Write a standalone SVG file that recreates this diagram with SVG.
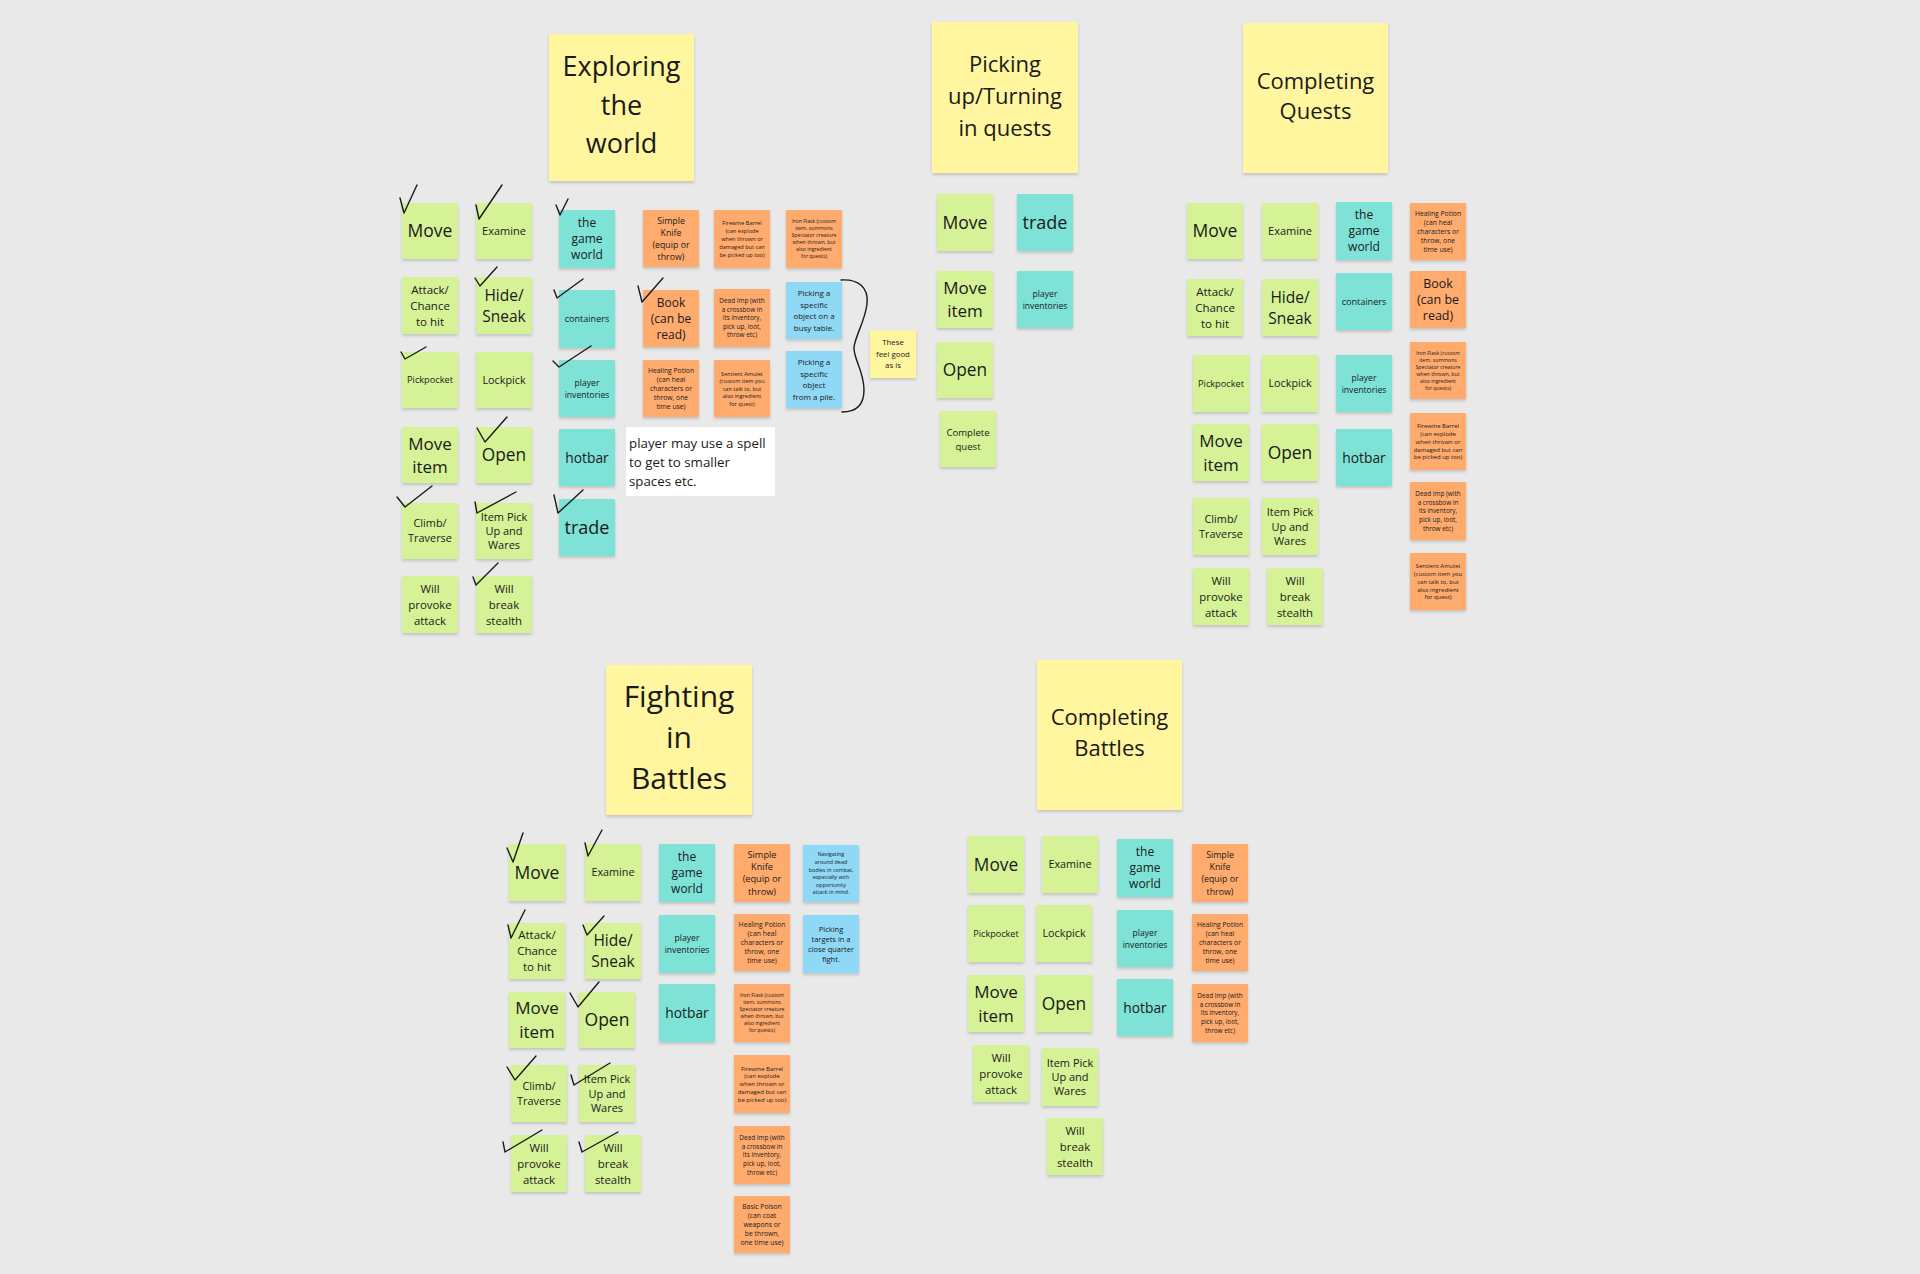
<svg xmlns="http://www.w3.org/2000/svg" width="1920" height="1274" viewBox="0 0 1920 1274">
<defs>
<filter id="sh" x="-10%" y="-10%" width="120%" height="130%"><feDropShadow dx="0" dy="2" stdDeviation="1.5" flood-color="#000" flood-opacity="0.16"/></filter>
<style>
.n{filter:url(#sh)}
.g{fill:#d5f296}.c{fill:#7ee2d7}.o{fill:#ffab6e}.y{fill:#fff69f}.b{fill:#8fd8f6}.w{fill:#ffffff}
text{font-family:"Open Sans","Liberation Sans",sans-serif;fill:#1a1a1a;text-anchor:middle}
.l{text-anchor:start}
.ck{fill:none;stroke:#1a1a1a;stroke-width:1.4;stroke-linecap:round;stroke-linejoin:round}
</style>
</defs>
<rect x="0" y="0" width="1920" height="1274" fill="#e9e9e9"/>

<!-- EXPLORING THE WORLD -->
<g id="ex-header"><rect class="n y" x="549" y="34" width="145" height="147"/><text font-size="27"><tspan x="621.5" y="76.2">Exploring</tspan><tspan x="621.5" y="114.7">the</tspan><tspan x="621.5" y="153.2">world</tspan></text></g>
<g id="ex-move"><rect class="n g" x="402" y="203" width="56" height="56"/><text font-size="17.5" x="430" y="237.3">Move</text></g>
<g id="ex-examine"><rect class="n g" x="476" y="203" width="56" height="56"/><text font-size="11" x="504" y="235">Examine</text></g>
<g id="ex-world"><rect class="n c" x="559" y="210" width="56" height="58"/><text font-size="12"><tspan x="587" y="227.3">the</tspan><tspan x="587" y="243.3">game</tspan><tspan x="587" y="259.3">world</tspan></text></g>
<g id="ex-knife"><rect class="n o" x="643" y="210" width="56" height="57"/><text font-size="8.8"><tspan x="671" y="223.7">Simple</tspan><tspan x="671" y="235.7">Knife</tspan><tspan x="671" y="247.7">(equip or</tspan><tspan x="671" y="259.7">throw)</tspan></text></g>
<g id="ex-barrel"><rect class="n o" x="714" y="210" width="56" height="58"/><text font-size="5.6"><tspan x="742" y="225">Firewine Barrel</tspan><tspan x="742" y="233">(can explode</tspan><tspan x="742" y="241">when thrown or</tspan><tspan x="742" y="249">damaged but can</tspan><tspan x="742" y="257">be picked up too)</tspan></text></g>
<g id="ex-flask"><rect class="n o" x="786" y="210" width="56" height="58"/><text font-size="5.2"><tspan x="814" y="223.4">Iron Flask (custom</tspan><tspan x="814" y="230.4">item, summons</tspan><tspan x="814" y="237.4">Spectator creature</tspan><tspan x="814" y="244.4">when thrown, but</tspan><tspan x="814" y="251.4">also ingredient</tspan><tspan x="814" y="258.4">for quests)</tspan></text></g>
<g id="ex-attack"><rect class="n g" x="402" y="277" width="56" height="57"/><text font-size="11.5"><tspan x="430" y="293.6">Attack/</tspan><tspan x="430" y="309.6">Chance</tspan><tspan x="430" y="325.6">to hit</tspan></text></g>
<g id="ex-hide"><rect class="n g" x="476" y="277" width="56" height="57"/><text font-size="15.5"><tspan x="504" y="300.6">Hide/</tspan><tspan x="504" y="321.6">Sneak</tspan></text></g>
<g id="ex-containers"><rect class="n c" x="559" y="290" width="56" height="58"/><text font-size="9.1" x="587" y="322.3">containers</text></g>
<g id="ex-book"><rect class="n o" x="643" y="290" width="56" height="57"/><text font-size="12"><tspan x="671" y="306.8">Book</tspan><tspan x="671" y="322.8">(can be</tspan><tspan x="671" y="338.8">read)</tspan></text></g>
<g id="ex-imp"><rect class="n o" x="714" y="289" width="56" height="58"/><text font-size="6.4"><tspan x="742" y="303.3">Dead Imp (with</tspan><tspan x="742" y="311.8">a crossbow in</tspan><tspan x="742" y="320.3">its inventory,</tspan><tspan x="742" y="328.8">pick up, loot,</tspan><tspan x="742" y="337.3">throw etc)</tspan></text></g>
<g id="ex-busy"><rect class="n b" x="786" y="282" width="56" height="57"/><text font-size="8"><tspan x="814" y="296.2">Picking a</tspan><tspan x="814" y="307.7">specific</tspan><tspan x="814" y="319.2">object on a</tspan><tspan x="814" y="330.7">busy table.</tspan></text></g>
<g id="ex-pickpocket"><rect class="n g" x="402" y="352" width="56" height="56"/><text font-size="9.2" x="430" y="383.3">Pickpocket</text></g>
<g id="ex-lockpick"><rect class="n g" x="476" y="352" width="56" height="56"/><text font-size="10.8" x="504" y="383.9">Lockpick</text></g>
<g id="ex-inv"><rect class="n c" x="559" y="360" width="56" height="57"/><text font-size="8.6"><tspan x="587" y="385.6">player</tspan><tspan x="587" y="397.6">inventories</tspan></text></g>
<g id="ex-potion"><rect class="n o" x="643" y="360" width="56" height="57"/><text font-size="6.8"><tspan x="671" y="372.9">Healing Potion</tspan><tspan x="671" y="381.9">(can heal</tspan><tspan x="671" y="390.9">characters or</tspan><tspan x="671" y="399.9">throw, one</tspan><tspan x="671" y="408.9">time use)</tspan></text></g>
<g id="ex-amulet"><rect class="n o" x="714" y="360" width="56" height="57"/><text font-size="5.6"><tspan x="742" y="375.5">Sentient Amulet</tspan><tspan x="742" y="383">(custom item you</tspan><tspan x="742" y="390.5">can talk to, but</tspan><tspan x="742" y="398">also ingredient</tspan><tspan x="742" y="405.5">for quest)</tspan></text></g>
<g id="ex-pile"><rect class="n b" x="786" y="351" width="56" height="57"/><text font-size="8"><tspan x="814" y="365.2">Picking a</tspan><tspan x="814" y="376.7">specific</tspan><tspan x="814" y="388.2">object</tspan><tspan x="814" y="399.7">from a pile.</tspan></text></g>
<g id="ex-good"><rect class="n y" x="870" y="330" width="46" height="48"/><text font-size="7.8"><tspan x="893" y="345.3">These</tspan><tspan x="893" y="356.8">feel good</tspan><tspan x="893" y="368.3">as is</tspan></text></g>
<g id="ex-moveitem"><rect class="n g" x="402" y="427" width="56" height="56"/><text font-size="17"><tspan x="430" y="449.6">Move</tspan><tspan x="430" y="472.6">item</tspan></text></g>
<g id="ex-open"><rect class="n g" x="476" y="427" width="56" height="56"/><text font-size="17.3" x="504" y="461.2">Open</text></g>
<g id="ex-hotbar"><rect class="n c" x="559" y="429" width="56" height="57"/><text font-size="13.8" x="587" y="462.5">hotbar</text></g>
<g id="ex-spell"><rect class="w" x="626" y="427" width="149" height="69"/><text class="l" font-size="13.3"><tspan x="629" y="447.8">player may use a spell</tspan><tspan x="629" y="466.8">to get to smaller</tspan><tspan x="629" y="485.8">spaces etc.</tspan></text></g>
<g id="ex-climb"><rect class="n g" x="402" y="503" width="56" height="56"/><text font-size="10.9"><tspan x="430" y="527.4">Climb/</tspan><tspan x="430" y="542.4">Traverse</tspan></text></g>
<g id="ex-pickup"><rect class="n g" x="476" y="503" width="56" height="56"/><text font-size="11"><tspan x="504" y="520.7">Item Pick</tspan><tspan x="504" y="535">Up and</tspan><tspan x="504" y="549.3">Wares</tspan></text></g>
<g id="ex-trade"><rect class="n c" x="559" y="499" width="56" height="57"/><text font-size="18" x="587" y="534">trade</text></g>
<g id="ex-provoke"><rect class="n g" x="402" y="576" width="56" height="57"/><text font-size="11.4"><tspan x="430" y="592.6">Will</tspan><tspan x="430" y="608.6">provoke</tspan><tspan x="430" y="624.6">attack</tspan></text></g>
<g id="ex-stealth"><rect class="n g" x="476" y="576" width="56" height="57"/><text font-size="11.4"><tspan x="504" y="592.6">Will</tspan><tspan x="504" y="608.6">break</tspan><tspan x="504" y="624.6">stealth</tspan></text></g>

<!-- PICKING UP / TURNING IN QUESTS -->
<g id="pu-header"><rect class="n y" x="932" y="22" width="146" height="151"/><text font-size="22"><tspan x="1005" y="72.4">Picking</tspan><tspan x="1005" y="104.4">up/Turning</tspan><tspan x="1005" y="136.4">in quests</tspan></text></g>
<g id="pu-move"><rect class="n g" x="937" y="194" width="56" height="57"/><text font-size="17.5" x="965" y="228.8">Move</text></g>
<g id="pu-trade"><rect class="n c" x="1017" y="194" width="56" height="57"/><text font-size="18" x="1045" y="229">trade</text></g>
<g id="pu-moveitem"><rect class="n g" x="937" y="271" width="56" height="57"/><text font-size="17"><tspan x="965" y="294.1">Move</tspan><tspan x="965" y="317.1">item</tspan></text></g>
<g id="pu-inv"><rect class="n c" x="1017" y="271" width="56" height="57"/><text font-size="8.6"><tspan x="1045" y="296.6">player</tspan><tspan x="1045" y="308.6">inventories</tspan></text></g>
<g id="pu-open"><rect class="n g" x="937" y="342" width="56" height="56"/><text font-size="17.3" x="965" y="376.2">Open</text></g>
<g id="pu-complete"><rect class="n g" x="940" y="411" width="56" height="56"/><text font-size="9.6"><tspan x="968" y="435.5">Complete</tspan><tspan x="968" y="449.5">quest</tspan></text></g>

<!-- COMPLETING QUESTS -->
<g id="cq-header"><rect class="n y" x="1243" y="23" width="145" height="150"/><text font-size="22"><tspan x="1315.5" y="88.9">Completing</tspan><tspan x="1315.5" y="119.4">Quests</tspan></text></g>
<g id="cq-move"><rect class="n g" x="1187" y="203" width="56" height="56"/><text font-size="17.5" x="1215" y="237.3">Move</text></g>
<g id="cq-examine"><rect class="n g" x="1262" y="203" width="56" height="56"/><text font-size="11" x="1290" y="235">Examine</text></g>
<g id="cq-world"><rect class="n c" x="1336" y="202" width="56" height="58"/><text font-size="12"><tspan x="1364" y="219.3">the</tspan><tspan x="1364" y="235.3">game</tspan><tspan x="1364" y="251.3">world</tspan></text></g>
<g id="cq-potion"><rect class="n o" x="1410" y="203" width="56" height="57"/><text font-size="6.8"><tspan x="1438" y="215.9">Healing Potion</tspan><tspan x="1438" y="224.9">(can heal</tspan><tspan x="1438" y="233.9">characters or</tspan><tspan x="1438" y="242.9">throw, one</tspan><tspan x="1438" y="251.9">time use)</tspan></text></g>
<g id="cq-attack"><rect class="n g" x="1187" y="279" width="56" height="57"/><text font-size="11.5"><tspan x="1215" y="295.6">Attack/</tspan><tspan x="1215" y="311.6">Chance</tspan><tspan x="1215" y="327.6">to hit</tspan></text></g>
<g id="cq-hide"><rect class="n g" x="1262" y="279" width="56" height="57"/><text font-size="15.5"><tspan x="1290" y="302.6">Hide/</tspan><tspan x="1290" y="323.6">Sneak</tspan></text></g>
<g id="cq-containers"><rect class="n c" x="1336" y="273" width="56" height="57"/><text font-size="9.1" x="1364" y="304.8">containers</text></g>
<g id="cq-book"><rect class="n o" x="1410" y="271" width="56" height="57"/><text font-size="12.5"><tspan x="1438" y="288">Book</tspan><tspan x="1438" y="304">(can be</tspan><tspan x="1438" y="320">read)</tspan></text></g>
<g id="cq-pickpocket"><rect class="n g" x="1193" y="355" width="56" height="57"/><text font-size="9.2" x="1221" y="386.8">Pickpocket</text></g>
<g id="cq-lockpick"><rect class="n g" x="1262" y="355" width="56" height="57"/><text font-size="10.8" x="1290" y="387.4">Lockpick</text></g>
<g id="cq-inv"><rect class="n c" x="1336" y="355" width="56" height="57"/><text font-size="8.6"><tspan x="1364" y="380.6">player</tspan><tspan x="1364" y="392.6">inventories</tspan></text></g>
<g id="cq-flask"><rect class="n o" x="1410" y="342" width="56" height="57"/><text font-size="5.2"><tspan x="1438" y="354.9">Iron Flask (custom</tspan><tspan x="1438" y="361.9">item, summons</tspan><tspan x="1438" y="368.9">Spectator creature</tspan><tspan x="1438" y="375.9">when thrown, but</tspan><tspan x="1438" y="382.9">also ingredient</tspan><tspan x="1438" y="389.9">for quests)</tspan></text></g>
<g id="cq-moveitem"><rect class="n g" x="1193" y="424" width="56" height="57"/><text font-size="17"><tspan x="1221" y="446.6">Move</tspan><tspan x="1221" y="470.6">item</tspan></text></g>
<g id="cq-open"><rect class="n g" x="1262" y="424" width="56" height="57"/><text font-size="17.4" x="1290" y="458.8">Open</text></g>
<g id="cq-hotbar"><rect class="n c" x="1336" y="429" width="56" height="57"/><text font-size="13.8" x="1364" y="462.5">hotbar</text></g>
<g id="cq-barrel"><rect class="n o" x="1410" y="413" width="56" height="57"/><text font-size="6"><tspan x="1438" y="428.1">Firewine Barrel</tspan><tspan x="1438" y="435.9">(can explode</tspan><tspan x="1438" y="443.7">when thrown or</tspan><tspan x="1438" y="451.5">damaged but can</tspan><tspan x="1438" y="459.3">be picked up too)</tspan></text></g>
<g id="cq-climb"><rect class="n g" x="1193" y="498" width="56" height="57"/><text font-size="10.9"><tspan x="1221" y="522.9">Climb/</tspan><tspan x="1221" y="537.9">Traverse</tspan></text></g>
<g id="cq-pickup"><rect class="n g" x="1262" y="498" width="56" height="57"/><text font-size="11"><tspan x="1290" y="516.2">Item Pick</tspan><tspan x="1290" y="530.5">Up and</tspan><tspan x="1290" y="544.8">Wares</tspan></text></g>
<g id="cq-imp"><rect class="n o" x="1410" y="482" width="56" height="58"/><text font-size="6.4"><tspan x="1438" y="496.1">Dead Imp (with</tspan><tspan x="1438" y="504.7">a crossbow in</tspan><tspan x="1438" y="513.3">its inventory,</tspan><tspan x="1438" y="521.9">pick up, loot,</tspan><tspan x="1438" y="530.5">throw etc)</tspan></text></g>
<g id="cq-provoke"><rect class="n g" x="1193" y="568" width="56" height="57"/><text font-size="11.4"><tspan x="1221" y="584.6">Will</tspan><tspan x="1221" y="600.6">provoke</tspan><tspan x="1221" y="616.6">attack</tspan></text></g>
<g id="cq-stealth"><rect class="n g" x="1267" y="568" width="56" height="57"/><text font-size="11.4"><tspan x="1295" y="584.6">Will</tspan><tspan x="1295" y="600.6">break</tspan><tspan x="1295" y="616.6">stealth</tspan></text></g>
<g id="cq-amulet"><rect class="n o" x="1410" y="553" width="56" height="57"/><text font-size="6"><tspan x="1438" y="568.1">Sentient Amulet</tspan><tspan x="1438" y="575.9">(custom item you</tspan><tspan x="1438" y="583.7">can talk to, but</tspan><tspan x="1438" y="591.5">also ingredient</tspan><tspan x="1438" y="599.3">for quest)</tspan></text></g>

<!-- FIGHTING IN BATTLES -->
<g id="fb-header"><rect class="n y" x="606" y="665" width="146" height="150"/><text font-size="30"><tspan x="679" y="706.8">Fighting</tspan><tspan x="679" y="747.8">in</tspan><tspan x="679" y="788.8">Battles</tspan></text></g>
<g id="fb-move"><rect class="n g" x="509" y="844" width="56" height="57"/><text font-size="17.5" x="537" y="878.8">Move</text></g>
<g id="fb-examine"><rect class="n g" x="585" y="844" width="56" height="57"/><text font-size="10.8" x="613" y="876.4">Examine</text></g>
<g id="fb-world"><rect class="n c" x="659" y="844" width="56" height="58"/><text font-size="12"><tspan x="687" y="861.3">the</tspan><tspan x="687" y="877.3">game</tspan><tspan x="687" y="893.3">world</tspan></text></g>
<g id="fb-knife"><rect class="n o" x="734" y="844" width="56" height="58"/><text font-size="9.2"><tspan x="762" y="858">Simple</tspan><tspan x="762" y="870.2">Knife</tspan><tspan x="762" y="882.4">(equip or</tspan><tspan x="762" y="894.6">throw)</tspan></text></g>
<g id="fb-nav"><rect class="n b" x="803" y="845" width="56" height="57"/><text font-size="5.4"><tspan x="831" y="856.4">Navigating</tspan><tspan x="831" y="864">around dead</tspan><tspan x="831" y="871.6">bodies in combat,</tspan><tspan x="831" y="879.2">especially with</tspan><tspan x="831" y="886.8">opportunity</tspan><tspan x="831" y="894.4">attack in mind.</tspan></text></g>
<g id="fb-attack"><rect class="n g" x="509" y="923" width="56" height="56"/><text font-size="11.5"><tspan x="537" y="939.1">Attack/</tspan><tspan x="537" y="955.1">Chance</tspan><tspan x="537" y="971.1">to hit</tspan></text></g>
<g id="fb-hide"><rect class="n g" x="585" y="923" width="56" height="56"/><text font-size="15.5"><tspan x="613" y="946.1">Hide/</tspan><tspan x="613" y="967.1">Sneak</tspan></text></g>
<g id="fb-inv"><rect class="n c" x="659" y="915" width="56" height="58"/><text font-size="8.6"><tspan x="687" y="941.1">player</tspan><tspan x="687" y="953.1">inventories</tspan></text></g>
<g id="fb-potion"><rect class="n o" x="734" y="914" width="56" height="57"/><text font-size="6.9"><tspan x="762" y="926.8">Healing Potion</tspan><tspan x="762" y="935.9">(can heal</tspan><tspan x="762" y="945">characters or</tspan><tspan x="762" y="954.1">throw, one</tspan><tspan x="762" y="963.2">time use)</tspan></text></g>
<g id="fb-targets"><rect class="n b" x="803" y="915" width="56" height="58"/><text font-size="7.5"><tspan x="831" y="931.7">Picking</tspan><tspan x="831" y="941.7">targets in a</tspan><tspan x="831" y="951.7">close quarter</tspan><tspan x="831" y="961.7">fight.</tspan></text></g>
<g id="fb-moveitem"><rect class="n g" x="509" y="992" width="56" height="56"/><text font-size="17"><tspan x="537" y="1014.1">Move</tspan><tspan x="537" y="1038.1">item</tspan></text></g>
<g id="fb-open"><rect class="n g" x="579" y="992" width="56" height="56"/><text font-size="17.5" x="607" y="1026.3">Open</text></g>
<g id="fb-hotbar"><rect class="n c" x="659" y="984" width="56" height="58"/><text font-size="13.8" x="687" y="1018">hotbar</text></g>
<g id="fb-flask"><rect class="n o" x="734" y="984" width="56" height="58"/><text font-size="5.2"><tspan x="762" y="997.4">Iron Flask (custom</tspan><tspan x="762" y="1004.4">item, summons</tspan><tspan x="762" y="1011.4">Spectator creature</tspan><tspan x="762" y="1018.4">when thrown, but</tspan><tspan x="762" y="1025.4">also ingredient</tspan><tspan x="762" y="1032.4">for quests)</tspan></text></g>
<g id="fb-climb"><rect class="n g" x="511" y="1065" width="56" height="57"/><text font-size="10.9"><tspan x="539" y="1089.9">Climb/</tspan><tspan x="539" y="1104.9">Traverse</tspan></text></g>
<g id="fb-pickup"><rect class="n g" x="579" y="1065" width="56" height="57"/><text font-size="11"><tspan x="607" y="1083.2">Item Pick</tspan><tspan x="607" y="1097.5">Up and</tspan><tspan x="607" y="1111.8">Wares</tspan></text></g>
<g id="fb-barrel"><rect class="n o" x="734" y="1055" width="56" height="58"/><text font-size="6"><tspan x="762" y="1070.6">Firewine Barrel</tspan><tspan x="762" y="1078.4">(can explode</tspan><tspan x="762" y="1086.2">when thrown or</tspan><tspan x="762" y="1094">damaged but can</tspan><tspan x="762" y="1101.8">be picked up too)</tspan></text></g>
<g id="fb-provoke"><rect class="n g" x="511" y="1135" width="56" height="57"/><text font-size="11.4"><tspan x="539" y="1151.6">Will</tspan><tspan x="539" y="1167.6">provoke</tspan><tspan x="539" y="1183.6">attack</tspan></text></g>
<g id="fb-stealth"><rect class="n g" x="585" y="1135" width="56" height="57"/><text font-size="11.4"><tspan x="613" y="1151.6">Will</tspan><tspan x="613" y="1167.6">break</tspan><tspan x="613" y="1183.6">stealth</tspan></text></g>
<g id="fb-imp"><rect class="n o" x="734" y="1126" width="56" height="58"/><text font-size="6.4"><tspan x="762" y="1139.7">Dead Imp (with</tspan><tspan x="762" y="1148.5">a crossbow in</tspan><tspan x="762" y="1157.3">its inventory,</tspan><tspan x="762" y="1166.1">pick up, loot,</tspan><tspan x="762" y="1174.9">throw etc)</tspan></text></g>
<g id="fb-poison"><rect class="n o" x="734" y="1196" width="56" height="57"/><text font-size="6.8"><tspan x="762" y="1208.5">Basic Poison</tspan><tspan x="762" y="1217.7">(can coat</tspan><tspan x="762" y="1226.9">weapons or</tspan><tspan x="762" y="1236.1">be thrown,</tspan><tspan x="762" y="1245.3">one time use)</tspan></text></g>

<!-- COMPLETING BATTLES -->
<g id="cb-header"><rect class="n y" x="1037" y="660" width="145" height="150"/><text font-size="22"><tspan x="1109.5" y="724.9">Completing</tspan><tspan x="1109.5" y="756.4">Battles</tspan></text></g>
<g id="cb-move"><rect class="n g" x="968" y="836" width="56" height="57"/><text font-size="17.3" x="996" y="870.7">Move</text></g>
<g id="cb-examine"><rect class="n g" x="1042" y="836" width="56" height="57"/><text font-size="10.8" x="1070" y="868.4">Examine</text></g>
<g id="cb-world"><rect class="n c" x="1117" y="839" width="56" height="58"/><text font-size="12"><tspan x="1145" y="856.3">the</tspan><tspan x="1145" y="872.3">game</tspan><tspan x="1145" y="888.3">world</tspan></text></g>
<g id="cb-knife"><rect class="n o" x="1192" y="844" width="56" height="58"/><text font-size="8.8"><tspan x="1220" y="857.9">Simple</tspan><tspan x="1220" y="870.1">Knife</tspan><tspan x="1220" y="882.3">(equip or</tspan><tspan x="1220" y="894.5">throw)</tspan></text></g>
<g id="cb-pickpocket"><rect class="n g" x="968" y="905" width="56" height="57"/><text font-size="9.1" x="996" y="936.8">Pickpocket</text></g>
<g id="cb-lockpick"><rect class="n g" x="1036" y="905" width="56" height="57"/><text font-size="10.8" x="1064" y="937.4">Lockpick</text></g>
<g id="cb-inv"><rect class="n c" x="1117" y="910" width="56" height="57"/><text font-size="8.6"><tspan x="1145" y="935.6">player</tspan><tspan x="1145" y="947.6">inventories</tspan></text></g>
<g id="cb-potion"><rect class="n o" x="1192" y="914" width="56" height="57"/><text font-size="6.8"><tspan x="1220" y="926.5">Healing Potion</tspan><tspan x="1220" y="935.7">(can heal</tspan><tspan x="1220" y="944.9">characters or</tspan><tspan x="1220" y="954.1">throw, one</tspan><tspan x="1220" y="963.3">time use)</tspan></text></g>
<g id="cb-moveitem"><rect class="n g" x="968" y="975" width="56" height="57"/><text font-size="17"><tspan x="996" y="997.6">Move</tspan><tspan x="996" y="1021.6">item</tspan></text></g>
<g id="cb-open"><rect class="n g" x="1036" y="975" width="56" height="57"/><text font-size="17.4" x="1064" y="1009.8">Open</text></g>
<g id="cb-hotbar"><rect class="n c" x="1117" y="979" width="56" height="57"/><text font-size="13.8" x="1145" y="1012.5">hotbar</text></g>
<g id="cb-imp"><rect class="n o" x="1192" y="984" width="56" height="58"/><text font-size="6.4"><tspan x="1220" y="997.7">Dead Imp (with</tspan><tspan x="1220" y="1006.5">a crossbow in</tspan><tspan x="1220" y="1015.3">its inventory,</tspan><tspan x="1220" y="1024.1">pick up, loot,</tspan><tspan x="1220" y="1032.9">throw etc)</tspan></text></g>
<g id="cb-provoke"><rect class="n g" x="973" y="1045" width="56" height="57"/><text font-size="11.4"><tspan x="1001" y="1061.6">Will</tspan><tspan x="1001" y="1077.6">provoke</tspan><tspan x="1001" y="1093.6">attack</tspan></text></g>
<g id="cb-pickup"><rect class="n g" x="1042" y="1048" width="56" height="58"/><text font-size="11"><tspan x="1070" y="1066.7">Item Pick</tspan><tspan x="1070" y="1081">Up and</tspan><tspan x="1070" y="1095.3">Wares</tspan></text></g>
<g id="cb-stealth"><rect class="n g" x="1047" y="1118" width="56" height="57"/><text font-size="11.4"><tspan x="1075" y="1134.6">Will</tspan><tspan x="1075" y="1150.6">break</tspan><tspan x="1075" y="1166.6">stealth</tspan></text></g>

<!-- hand-drawn marks -->
<g id="connectors">
<path class="ck" d="M841,280 C858,279 869,287 867,304 C865,321 856,334 854,347 C853,358 864,371 864,390 C864,405 856,412 842,412"/>
<polyline class="ck" points="400,198 404,213 417,185"/>
<polyline class="ck" points="476,205 479,219 502,185"/>
<polyline class="ck" points="556,205 560,215 568,199"/>
<polyline class="ck" points="475,278 480,286 497,267"/>
<polyline class="ck" points="554,290 557,298 583,279"/>
<polyline class="ck" points="638,286 642,302 663,278"/>
<polyline class="ck" points="401,352 405,359 426,347"/>
<polyline class="ck" points="553,361 559,367 591,346"/>
<polyline class="ck" points="477,428 485,442 507,417"/>
<polyline class="ck" points="397,497 405,507 432,486"/>
<polyline class="ck" points="475,502 477,513 516,492"/>
<polyline class="ck" points="554,495 558,513 583,490"/>
<polyline class="ck" points="473,577 476,585 498,563"/>
<polyline class="ck" points="507,848 513,862 523,833"/>
<polyline class="ck" points="585,843 588,856 602,830"/>
<polyline class="ck" points="508,925 511,938 525,910"/>
<polyline class="ck" points="583,925 587,935 604,916"/>
<polyline class="ck" points="570,993 578,1007 599,982"/>
<polyline class="ck" points="507,1067 515,1080 536,1056"/>
<polyline class="ck" points="571,1075 574,1085 610,1063"/>
<polyline class="ck" points="503,1142 505,1152 542,1130"/>
<polyline class="ck" points="579,1142 582,1152 618,1132"/>
</g>
</svg>
